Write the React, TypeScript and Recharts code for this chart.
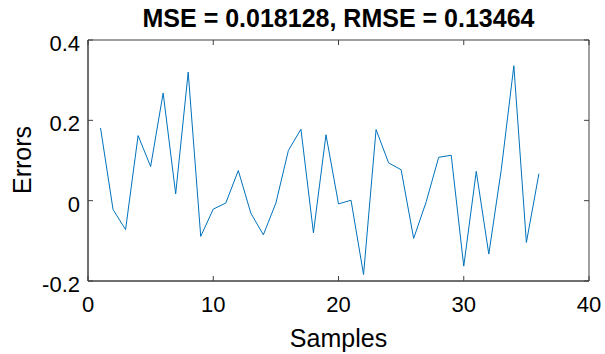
import React from "react";
import { LineChart, Line, XAxis, YAxis, ReferenceLine } from "recharts";

const samples = [
  1, 2, 3, 4, 5, 6, 7, 8, 9, 10, 11, 12, 13, 14, 15, 16, 17, 18,
  19, 20, 21, 22, 23, 24, 25, 26, 27, 28, 29, 30, 31, 32, 33, 34, 35, 36,
];
const errors = [
  0.181, -0.022, -0.072, 0.162, 0.085, 0.268, 0.017, 0.32, -0.089, -0.021,
  -0.006, 0.075, -0.031, -0.085, -0.006, 0.125, 0.178, -0.08, 0.164, -0.008,
  0.001, -0.184, 0.177, 0.094, 0.077, -0.094, -0.003, 0.108, 0.113, -0.163,
  0.073, -0.133, 0.078, 0.336, -0.104, 0.067,
];
const xTicks = [0, 10, 20, 30, 40];
const yTicks = [-0.2, 0, 0.2, 0.4];
const xDomain = [0, 40];
const yDomain = [-0.2, 0.4];

const data = samples.map((s, i) => ({ sample: s, error: errors[i] }));

const FONT = "'Liberation Sans', Arial, Helvetica, sans-serif";
const AXIS = "#404040";
const TXT = "#000000";

const W = 605;
const H = 354;
const M = { top: 40, right: 16, left: 0, bottom: 0 };
const Y_AXIS_W = 88;
const X_AXIS_H = 73;
const PLOT_W = W - M.right - Y_AXIS_W;
const PLOT_H = H - M.top - X_AXIS_H;

// MATLAB style box: ticks point inward on all four sides
const BottomTick = (props: any) => {
  const { x, y, payload } = props;
  return (
    <g>
      <line x1={x} y1={y} x2={x} y2={y - 5} stroke={AXIS} strokeWidth={1} />
      <line x1={x} y1={y - PLOT_H} x2={x} y2={y - PLOT_H + 5} stroke={AXIS} strokeWidth={1} />
      <text x={x} y={y + 31} textAnchor="middle" fontSize={22} fontFamily={FONT} fill={TXT}>
        {payload.value}
      </text>
    </g>
  );
};

const LeftTick = (props: any) => {
  const { x, y, payload } = props;
  return (
    <g>
      <line x1={x} y1={y} x2={x + 5} y2={y} stroke={AXIS} strokeWidth={1} />
      <line x1={x + PLOT_W} y1={y} x2={x + PLOT_W - 5} y2={y} stroke={AXIS} strokeWidth={1} />
      <text x={x - 8} y={y + 11} textAnchor="end" fontSize={22} fontFamily={FONT} fill={TXT}>
        {payload.value === 0 ? "0" : payload.value.toFixed(1)}
      </text>
    </g>
  );
};

export default function App() {
  return (
    <div style={{ position: "absolute", left: 0, top: 0, width: W, height: H, background: "#fff", fontFamily: FONT }}>
      <LineChart width={W} height={H} data={data} margin={M}>
        <XAxis
          dataKey="sample"
          type="number"
          domain={xDomain}
          ticks={xTicks}
          height={X_AXIS_H}
          tickSize={0}
          tickMargin={0}
          tickLine={false}
          axisLine={{ stroke: AXIS, strokeWidth: 1 }}
          tick={<BottomTick />}
          interval={0}
        />
        <YAxis
          type="number"
          domain={yDomain}
          ticks={yTicks}
          width={Y_AXIS_W}
          tickSize={0}
          tickMargin={0}
          tickLine={false}
          axisLine={{ stroke: AXIS, strokeWidth: 1 }}
          tick={<LeftTick />}
          interval={0}
        />
        {/* box edges */}
        <ReferenceLine y={yDomain[1]} stroke={AXIS} strokeWidth={1} />
        <ReferenceLine y={yDomain[0]} stroke={AXIS} strokeWidth={1} />
        <ReferenceLine x={xDomain[1]} stroke={AXIS} strokeWidth={1} />
        <ReferenceLine x={xDomain[0]} stroke={AXIS} strokeWidth={1} />
        <Line
          dataKey="error"
          stroke="#0072BD"
          strokeWidth={1}
          dot={false}
          isAnimationActive={false}
        />
      </LineChart>
      <div
        style={{
          position: "absolute",
          left: Y_AXIS_W,
          width: PLOT_W,
          top: 4,
          textAlign: "center",
          fontSize: 25,
          fontWeight: "bold",
          color: "#000",
          lineHeight: "28px",
        }}
      >
        MSE = 0.018128, RMSE = 0.13464
      </div>
      <div
        style={{
          position: "absolute",
          left: Y_AXIS_W,
          width: PLOT_W,
          top: 323,
          textAlign: "center",
          fontSize: 25,
          color: "#000",
          lineHeight: "30px",
        }}
      >
        Samples
      </div>
      <div
        style={{
          position: "absolute",
          left: 22,
          top: 160,
          transform: "translate(-50%, -50%) rotate(-90deg)",
          fontSize: 25,
          color: "#000",
          lineHeight: "28px",
          whiteSpace: "nowrap",
        }}
      >
        Errors
      </div>
    </div>
  );
}
